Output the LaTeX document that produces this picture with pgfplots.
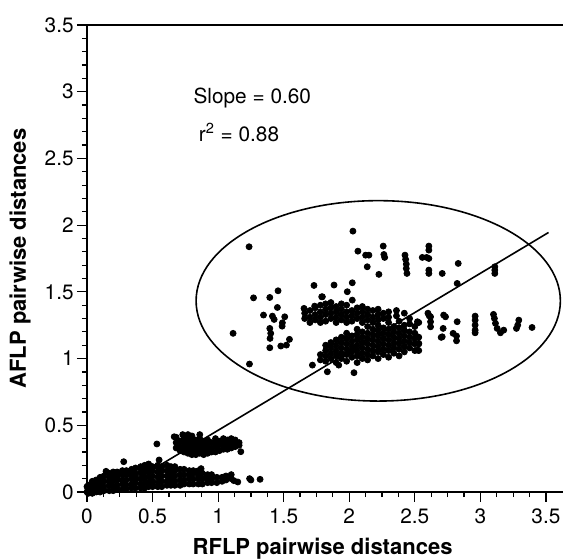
\documentclass[border=0pt]{standalone}
\usepackage{fontspec}
\setmainfont{TeX Gyre Heros}
\usepackage{pgfplots}
\pgfplotsset{compat=1.18}
\begin{document}
\begin{tikzpicture}
\begin{axis}[
  at={(0,0)}, anchor=south west,
  scale only axis, width=238pt, height=233.5pt,
  xmin=0, xmax=3.63, ymin=0, ymax=3.5,
  axis lines*=left,
  axis line style={line width=0.8pt,-},
  tick align=outside,
  xtick={0,0.5,1,1.5,2,2.5,3,3.5},
  xticklabels={0,0.5,1,1.5,2,2.5,3,3.5},
  ytick={0,0.5,1,1.5,2,2.5,3,3.5},
  yticklabels={0,0.5,1,1.5,2,2.5,3,3.5},
  minor x tick num=3, minor y tick num=4,
  major tick length=5pt, minor tick length=2.6pt,
  tick style={line width=0.6pt, black},
  ticklabel style={font=\fontsize{10.4}{11}\selectfont},
  yticklabel style={inner sep=1.5pt},
  /pgf/number format/assume math mode=true,
  xlabel={RFLP pairwise distances},
  ylabel={AFLP pairwise distances},
  label style={font=\fontsize{11}{13}\selectfont\bfseries},
  xlabel style={at={(axis description cs:0.495,-0.121)}, anchor=center},
  ylabel style={at={(axis description cs:-0.1405,0.5)}, anchor=center},
  clip=false,
]
% cluster 1: dense low cloud
\addplot[only marks, mark=*, mark size=1.5pt, black] coordinates {
(0.00,0.00) (0.00,0.04) (0.01,-0.01) (0.01,0.02) (0.01,0.05)
(0.04,-0.01) (0.04,0.02) (0.04,0.05) (0.04,0.08)
(0.07,0.00) (0.07,0.03) (0.07,0.06) (0.07,0.09)
(0.10,0.00) (0.10,0.04) (0.10,0.07) (0.10,0.11)
(0.13,0.01) (0.13,0.04) (0.13,0.08) (0.13,0.12) (0.145,0.155)
(0.17,0.01) (0.17,0.05) (0.17,0.08) (0.17,0.11) (0.17,0.14)
(0.20,0.01) (0.20,0.04) (0.20,0.08) (0.20,0.12) (0.20,0.15)
(0.23,0.02) (0.23,0.05) (0.23,0.09) (0.23,0.12) (0.23,0.15)
(0.27,0.02) (0.27,0.06) (0.27,0.09) (0.27,0.13) (0.27,0.16) (0.28,0.227)
(0.30,0.02) (0.30,0.05) (0.30,0.09) (0.30,0.13) (0.30,0.16)
(0.34,0.03) (0.34,0.06) (0.34,0.10) (0.34,0.14) (0.34,0.17)
(0.37,0.03) (0.37,0.07) (0.37,0.10) (0.37,0.14) (0.37,0.18)
(0.41,0.03) (0.41,0.06) (0.41,0.10) (0.41,0.14) (0.41,0.17) (0.41,0.19)
(0.44,0.03) (0.44,0.07) (0.44,0.11) (0.44,0.15) (0.44,0.18) (0.44,0.20)
(0.47,0.04) (0.47,0.07) (0.47,0.11) (0.47,0.15) (0.47,0.18) (0.47,0.21)
(0.50,0.04) (0.50,0.08) (0.50,0.12) (0.50,0.16) (0.50,0.19)
(0.54,0.04) (0.54,0.07) (0.54,0.11) (0.54,0.15) (0.54,0.19) (0.54,0.20) (0.55,0.24)
(0.57,0.04) (0.57,0.08) (0.57,0.12) (0.57,0.16) (0.57,0.19)
(0.61,0.05) (0.61,0.08) (0.61,0.12) (0.61,0.16) (0.61,0.20)
(0.64,0.05) (0.64,0.09) (0.64,0.13) (0.64,0.17) (0.64,0.19)
(0.67,0.05) (0.67,0.08) (0.67,0.12) (0.67,0.16) (0.67,0.19)
(0.71,0.05) (0.71,0.09) (0.71,0.13) (0.71,0.17)
(0.74,0.06) (0.74,0.09) (0.74,0.13) (0.74,0.17)
(0.78,0.06) (0.78,0.10) (0.78,0.13) (0.78,0.16)
(0.81,0.06) (0.81,0.10) (0.81,0.14) (0.81,0.16)
(0.85,0.06) (0.85,0.10) (0.85,0.13) (0.85,0.16) (0.87,0.175)
(0.88,0.06) (0.88,0.10) (0.88,0.14)
(0.92,0.07) (0.92,0.10) (0.92,0.13)
(0.95,0.07) (0.95,0.10) (0.95,0.13)
(0.99,0.07) (0.99,0.11)
(1.03,0.08) (1.03,0.11) (1.06,0.09) (1.06,0.12)
(1.10,0.10) (1.10,0.13) (1.12,0.085) (1.15,0.075)
(1.24,0.10) (1.25,0.09) (1.32,0.095)
};
% cluster 2
\addplot[only marks, mark=*, mark size=1.5pt, black] coordinates {
(0.533,0.36) (0.665,0.414) (0.73,0.43)
(0.68,0.33) (0.68,0.37) (0.68,0.41)
(0.71,0.31) (0.71,0.34) (0.71,0.38)
(0.74,0.30) (0.74,0.34) (0.74,0.37) (0.74,0.41)
(0.77,0.29) (0.77,0.33) (0.77,0.36) (0.77,0.40) (0.77,0.43)
(0.80,0.28) (0.80,0.31) (0.80,0.35) (0.80,0.38) (0.80,0.42)
(0.83,0.28) (0.83,0.32) (0.83,0.35) (0.83,0.39)
(0.86,0.29) (0.86,0.32) (0.86,0.36) (0.86,0.40) (0.86,0.43)
(0.89,0.28) (0.89,0.31) (0.89,0.34) (0.89,0.38)
(0.92,0.29) (0.92,0.33) (0.92,0.36) (0.92,0.39)
(0.95,0.30) (0.95,0.33) (0.95,0.37)
(0.98,0.30) (0.98,0.34) (0.98,0.37) (0.98,0.40)
(1.01,0.31) (1.01,0.35) (1.01,0.38)
(1.04,0.32) (1.04,0.35) (1.04,0.38) (1.04,0.40)
(1.07,0.32) (1.07,0.36) (1.07,0.39)
(1.10,0.33) (1.10,0.36) (1.10,0.39) (1.10,0.40)
(1.13,0.34) (1.13,0.37) (1.13,0.39)
(1.16,0.35) (1.16,0.37) (1.173,0.302)
};
% cluster 3: scattered points inside the ellipse
\addplot[only marks, mark=*, mark size=1.5pt, black] coordinates {
(1.236,1.838) (1.114,1.189) (1.239,0.959) (1.27,1.455) (1.394,1.458)
(1.457,1.508) (1.452,1.383) (1.346,1.326) (1.414,1.318) (1.427,1.293)
(1.508,1.313) (1.49,1.268) (1.488,1.243) (1.394,1.226) (1.401,1.189)
(1.396,1.151) (1.394,1.081) (1.478,1.094) (1.521,1.101) (1.544,1.144)
(1.731,1.548) (1.655,1.376) (1.736,1.393) (1.79,1.463) (1.719,0.951)
(2.028,1.955) (2.066,1.805) (2.125,1.775) (2.15,1.775) (2.137,1.688)
(2.226,1.631) (2.259,1.843) (2.264,1.78) (2.27,1.758)
(2.425,1.775) (2.43,1.743) (2.435,1.708) (2.435,1.675) (2.44,1.638)
(2.557,1.758) (2.59,1.758) (2.607,1.843) (2.607,1.813) (2.607,1.75)
(2.607,1.663) (2.607,1.638)
(1.884,1.551) (2.023,1.568) (1.985,1.501) (1.795,1.463) (2.023,1.438)
(2.831,1.713) (2.709,1.638) (2.823,1.563)
(3.11,1.688) (3.11,1.663) (3.11,1.638)
(2.62,1.313) (2.62,1.276) (2.62,1.238)
(2.72,1.326) (2.734,1.313) (2.716,1.226) (2.701,1.159) (2.709,1.163)
(2.823,1.276) (2.792,1.189) (2.818,1.169) (2.818,1.133)
(2.96,1.318) (2.96,1.288) (2.96,1.251) (2.96,1.213) (2.96,1.193)
(3.10,1.331) (3.107,1.301) (3.115,1.264) (3.128,1.226) (3.153,1.193) (3.178,1.213)
(3.293,1.288) (3.285,1.251) (3.275,1.226) (3.394,1.233)
(2.60,1.34) (2.61,1.32) (2.52,1.276) (2.52,1.163) (2.53,1.114) (2.52,1.064)
(1.833,0.901) (2.036,0.894) (1.92,0.951)
};
% cluster 3: lower band
\addplot[only marks, mark=*, mark size=1.5pt, black] coordinates {
(1.78,0.99) (1.78,1.03)
(1.82,0.98) (1.82,1.02) (1.82,1.06) (1.82,1.10)
(1.86,1.00) (1.86,1.04) (1.86,1.08) (1.86,1.12)
(1.90,0.97) (1.90,1.02) (1.90,1.06) (1.90,1.10) (1.90,1.14)
(1.94,1.00) (1.94,1.04) (1.94,1.08) (1.94,1.12) (1.94,1.16)
(1.98,0.98) (1.98,1.03) (1.98,1.07) (1.98,1.11) (1.98,1.15) (1.98,1.19)
(2.02,1.01) (2.02,1.05) (2.02,1.09) (2.02,1.13) (2.02,1.17)
(2.06,0.97) (2.06,1.02) (2.06,1.06) (2.06,1.10) (2.06,1.14) (2.06,1.18) (2.06,1.22)
(2.10,1.00) (2.10,1.04) (2.10,1.08) (2.10,1.12) (2.10,1.16) (2.10,1.20)
(2.14,0.99) (2.14,1.03) (2.14,1.07) (2.14,1.11) (2.14,1.15) (2.14,1.19) (2.14,1.24)
(2.18,1.02) (2.18,1.06) (2.18,1.10) (2.18,1.14) (2.18,1.18) (2.18,1.22)
(2.22,1.00) (2.22,1.05) (2.22,1.09) (2.22,1.13) (2.22,1.17) (2.22,1.21) (2.22,1.25)
(2.26,1.03) (2.26,1.07) (2.26,1.11) (2.26,1.15) (2.26,1.19) (2.26,1.23)
(2.30,1.01) (2.30,1.06) (2.30,1.10) (2.30,1.14) (2.30,1.18) (2.30,1.22) (2.30,1.27)
(2.34,1.04) (2.34,1.08) (2.34,1.12) (2.34,1.16) (2.34,1.20) (2.34,1.24)
(2.38,1.02) (2.38,1.07) (2.38,1.11) (2.38,1.15) (2.38,1.19) (2.38,1.23) (2.38,1.28)
(2.42,1.05) (2.42,1.09) (2.42,1.13) (2.42,1.17) (2.42,1.21) (2.42,1.25)
(2.46,1.08) (2.46,1.12) (2.46,1.16) (2.46,1.20) (2.46,1.26) (2.46,1.30)
(2.50,1.06) (2.50,1.11) (2.50,1.15) (2.50,1.19) (2.50,1.24)
(2.53,1.06) (2.53,1.11) (2.53,1.16) (2.53,1.27)
};
% cluster 3: upper band
\addplot[only marks, mark=*, mark size=1.5pt, black] coordinates {
(1.66,1.30) (1.66,1.34)
(1.70,1.27) (1.70,1.31) (1.70,1.36)
(1.74,1.29) (1.74,1.33) (1.74,1.38)
(1.78,1.27) (1.78,1.31) (1.78,1.35) (1.78,1.40)
(1.82,1.28) (1.82,1.33) (1.82,1.37) (1.82,1.41)
(1.86,1.30) (1.86,1.34) (1.86,1.38) (1.86,1.42)
(1.90,1.27) (1.90,1.31) (1.90,1.35) (1.90,1.39)
(1.94,1.29) (1.94,1.33) (1.94,1.37) (1.94,1.41)
(1.98,1.27) (1.98,1.31) (1.98,1.35) (1.98,1.40)
(2.02,1.28) (2.02,1.32) (2.02,1.36)
(2.06,1.30) (2.06,1.34) (2.06,1.38)
(2.10,1.27) (2.10,1.31) (2.10,1.35) (2.10,1.39)
(2.14,1.29) (2.14,1.33) (2.14,1.37)
(2.18,1.27) (2.18,1.31) (2.18,1.36)
(2.22,1.29) (2.22,1.33) (2.22,1.37)
(2.26,1.30) (2.26,1.34)
(2.30,1.31) (2.30,1.35)
(2.36,1.32) (2.36,1.36)
(2.42,1.34)
};
% regression line
\addplot[black, line width=0.8pt] coordinates {(0.35,0.08) (3.52,1.945)};
% ellipse around the high-distance group
\draw[line width=0.8pt] (axis cs:2.221,1.4325) ellipse [x radius=1.389, y radius=0.751];
% top frame line
\draw[line width=0.8pt] (rel axis cs:0,1) -- (rel axis cs:1,1);
\node[anchor=base west, inner sep=0pt, font=\fontsize{10.4}{12}\selectfont] at (axis cs:0.81,2.915) {Slope = 0.60};
\node[anchor=base west, inner sep=0pt, font=\fontsize{10.4}{12}\selectfont] at (axis cs:0.85,2.63) {r\textsuperscript{2} = 0.88};
\end{axis}
\pgfresetboundingbox
\useasboundingbox (-43.5pt,-34pt) rectangle (238pt,246pt);
\end{tikzpicture}
\end{document}
